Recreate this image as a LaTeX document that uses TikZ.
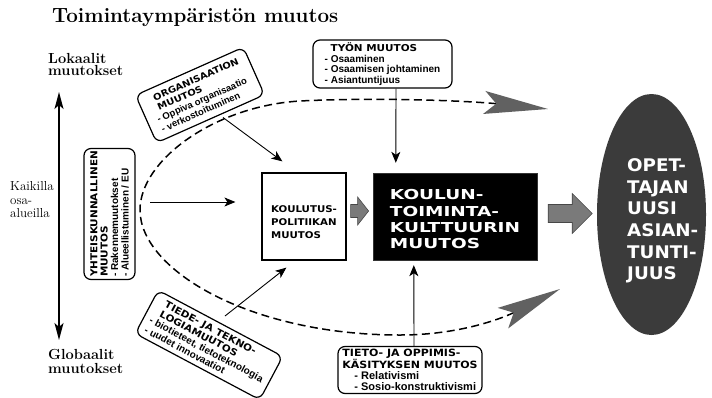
\documentclass[tikz,border=0pt]{standalone}
\usepackage{fontspec}
\usetikzlibrary{arrows.meta,shapes.geometric,calc}
\newfontfamily\hdrfam[FakeStretch=1.1]{DejaVu Sans}
\newfontfamily\blkfam[FakeStretch=1.35]{DejaVu Sans}
\newfontfamily\ovlfam[FakeStretch=1.05]{DejaVu Sans}
\newfontfamily\itmfam{Liberation Sans}
\newcommand\hdrs[1]{\hdrfam\bfseries\fontsize{#1}{10.5}\selectfont}
\tikzset{bigtip/.tip={Stealth[length=64pt,width=23pt,inset=12pt,color=black!62]}}

\begin{document}
\begin{tikzpicture}[x=1pt,y=-1pt,
  rbox/.style={draw, line width=1.2pt, rounded corners=7pt, inner sep=0pt, align=left,
     font=\itmfam\bfseries\fontsize{10}{10.5}\selectfont},
  conn/.style={line width=0.9pt, -{Stealth[length=11pt,width=9pt,inset=3pt]}},
  blockarrow/.style={fill=black!52, draw=black!72, line width=0.6pt, line join=miter},
  serifb/.style={inner sep=0pt, anchor=north west, align=left},
  arcline/.style={line width=1.5pt, dash pattern=on 8pt off 4.5pt}
]
\fill[white] (0,0) rectangle (712,397);
\useasboundingbox (0,0) rectangle (712,397);

% headings and side labels
\node[serifb, anchor=base west, font=\bfseries\fontsize{20.6}{22}\selectfont] (title) at (52,22.5) {Toimintaympäristön muutos};
\node[serifb, font=\bfseries\fontsize{14.6}{12.5}\selectfont] (lok) at (48,53) {Lokaalit\\muutokset};
\node[serifb, font=\bfseries\fontsize{14.6}{14}\selectfont] (glo) at (48,349.3) {Globaalit\\muutokset};
\node[serifb, font=\fontsize{13}{13.8}\selectfont] (kaik) at (10,181) {Kaikilla\\osa-\\alueilla};

% local <-> global axis
\coordinate (loktip) at (59,92);
\coordinate (glotip) at (59,340);
\draw[line width=1.3pt, {Stealth[length=17pt,width=9pt,inset=4pt]}-{Stealth[length=17pt,width=9pt,inset=4pt]}] (loktip) -- (glotip);

% dashed loop around the centre with its two grey heads
\coordinate (arcup) at (548,109);
\coordinate (arclow) at (560,289);
\draw[arcline, {bigtip}-{bigtip}] (arclow) .. controls (515,312) and (470,335) .. (400,335)
   .. controls (250,335) and (140,270) .. (140,210)
   .. controls (140,160) and (215,106) .. (300,101)
   .. controls (380,97) and (470,101) .. (arcup);

% central boxes
\node[draw, line width=1.2pt, minimum width=84pt, minimum height=87pt, inner sep=0pt, align=left,
      font=\hdrfam\bfseries\fontsize{9.3}{13.2}\selectfont] (kp) at (304,216.5) {\rule{0pt}{18pt}KOULUTUS-\\POLITIIKAN\\MUUTOS};
\node[fill=black, draw=black!80, minimum width=164pt, minimum height=87pt, inner sep=0pt, align=left, text=white,
      font=\blkfam\bfseries\fontsize{13.7}{16.3}\selectfont] (kt) at (455,216.5) {\rule{0pt}{16pt}KOULUN-\\TOIMINTA-\\KULTTUURIN\\MUUTOS};

% outcome
\node[ellipse, fill=black!77, minimum width=109pt, minimum height=241pt, inner sep=0pt] (oval) at (651.5,214.5) {};
\node[serifb, text=white, font=\ovlfam\bfseries\fontsize{17.4}{21.7}\selectfont] (ovtxt) at (627,158.2) {OPET-\\TAJAN\\UUSI\\ASIAN-\\TUNTI-\\JUUS};

% surrounding change factors
\node[rbox, minimum width=139pt, minimum height=48pt] (tyon) at (382.5,64)
  {\hspace*{6pt}{\hdrs{9.5}TYÖN MUUTOS}\\- Osaaminen\\- Osaamisen johtaminen\\- Asiantuntijuus};
\node[rbox, minimum width=144pt, minimum height=47pt, font=\itmfam\bfseries\fontsize{11}{11}\selectfont] (tieto) at (410,370)
  {{\hdrfam\bfseries\fontsize{10}{11}\selectfont TIETO- JA OPPIMIS-}\\{\hdrfam\bfseries\fontsize{10}{11}\selectfont KÄSITYKSEN MUUTOS}\\\hspace*{12pt}- Relativismi\\\hspace*{12pt}- Sosio-konstruktivismi};
\node[rbox, rotate=24, minimum width=118pt, minimum height=52pt, font=\itmfam\bfseries\fontsize{9.5}{10.6}\selectfont] (org) at (200,95)
  {\hspace*{5pt}{\hdrs{9}ORGANISAATION}\\\hspace*{5pt}{\hdrs{9}MUUTOS}\\- Oppiva organisaatio\\- verkostoituminen};
\node[rbox, rotate=-28, minimum width=141pt, minimum height=49pt, font=\itmfam\bfseries\fontsize{10}{10.6}\selectfont] (tiede) at (209,345)
  {\hspace*{6pt}{\hdrs{9.5}TIEDE- JA TEKNO-}\\\hspace*{6pt}{\hdrs{9.5}LOGIAMUUTOS}\\- biotieteet, tietoteknologia\\- uudet innovaatiot};
\node[rbox, rotate=90, minimum width=131pt, minimum height=51pt, font=\itmfam\bfseries\fontsize{10}{10.4}\selectfont] (yht) at (109.5,214)
  {{\hdrs{9.5}YHTEISKUNNALLINEN}\\{\hdrs{9.5}MUUTOS}\\- Rakennemuutokset\\- Alueellistuminen / EU};

% influence arrows
\draw[conn] ($(yht.center)+(40.5,-12)$) -- ($(kp.west)+(-26,-14.5)$);
\draw[conn] ($(org.center)+(23,22.5)$) -- ($(kp.north west)+(21,-11)$);
\draw[conn] ($(tiede.center)+(16,-29)$) -- ($(kp.south west)+(25,7)$);
\draw[conn] ($(tyon.south)+(13.5,0)$) -- ($(kt.north west)+(23,-10)$);
\draw[conn] ($(tieto.north)+(4,0)$) -- ($(kt.south west)+(41,5)$);

% grey block arrows
\draw[blockarrow] ($(kp.east)+(4,-5.5)$) -- ++(0,-6.5) -- ++(7,0) -- ++(0,-7.5) -- ++(11,14) -- ++(-11,14) -- ++(0,-7.5) -- ++(-7,0) -- cycle;
\draw[blockarrow] ($(kt.east)+(11,-3)$) -- ++(0,-9) -- ++(24,0) -- ++(0,-11) -- ++(20,20) -- ++(-20,20) -- ++(0,-11) -- ++(-24,0) -- cycle;
\end{tikzpicture}
\end{document}
